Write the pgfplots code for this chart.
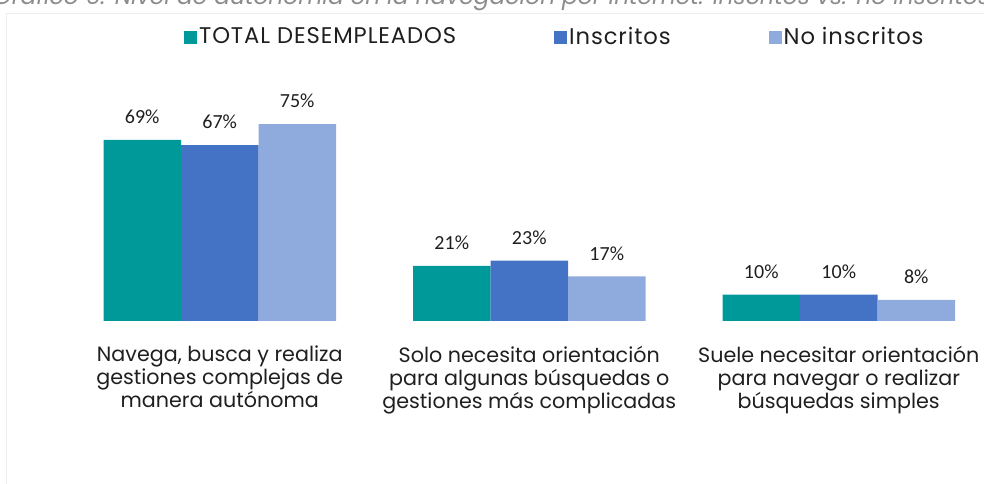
\documentclass[border=0pt]{standalone}
\usepackage{fontspec}
\setmainfont{Poppins}
\newfontfamily\labelfont{Carlito}
\newfontfamily\legendfont{Poppins}[LetterSpace=4]
\usepackage{pgfplots}
\pgfplotsset{compat=1.18}
\definecolor{tealbar}{HTML}{009999}
\definecolor{bluebar}{HTML}{4472C4}
\definecolor{lightbar}{HTML}{8FAADC}
\definecolor{txt}{HTML}{1F1F1F}
\definecolor{titlegray}{HTML}{8C8C8C}
\definecolor{framegray}{HTML}{EDEDED}

\pgfplotsset{
  sqlegend/.style={legend image code/.code={\fill[##1] (0pt,-5.5pt) rectangle (9.75pt,4.25pt);}}
}

\begin{document}
\begin{tikzpicture}
% faint chart frame and clipped title
\draw[framegray, line width=0.6pt] (4.5pt,-5pt) -- (4.5pt,353.25pt) -- (745pt,353.25pt);
\node[anchor=base, inner sep=0pt, text=titlegray, font=\itshape\fontsize{17.5}{20}\selectfont]
  at (369pt,359.25pt) {Gráfico 6. Nivel de autonomía en la navegación por internet. Inscritos vs. no inscritos};

\begin{axis}[
  at={(48.75pt,122.25pt)}, anchor=south west,
  scale only axis,
  width=696.375pt, height=196.875pt,
  xmin=-0.5, xmax=2.5, ymin=0, ymax=100,
  ybar=0pt, bar width=58.125pt,
  axis line style={draw=none},
  major tick length=0pt,
  ytick=\empty,
  xtick={0,1,2},
  xticklabels={{Navega, busca y realiza\\gestiones complejas de\\manera autónoma},
               {Solo necesita orientación\\para algunas búsquedas o\\gestiones más complicadas},
               {Suele necesitar orientación\\para navegar o realizar\\búsquedas simples}},
  xticklabel style={align=center, text=txt, font=\fontsize{15.5}{17.25}\selectfont, yshift=-15pt},
  /pgf/number format/assume math mode=true,
  nodes near coords={\pgfmathprintnumber{\pgfplotspointmeta}\%},
  nodes near coords style={font=\labelfont\fontsize{15}{18}\selectfont, text=txt, anchor=south, yshift=8.5pt},
  legend columns=3,
  legend style={at={(0.128,1.082)}, anchor=west, draw=none, fill=none, inner sep=0pt,
    font=\legendfont\fontsize{17}{19}\selectfont, text=txt,
    nodes={inner xsep=1.5pt},
    /tikz/every even column/.append style={column sep=72pt}},
]
\addplot[fill=tealbar, draw=none, sqlegend] coordinates {(0,69) (1,21) (2,10)};
\addplot[fill=bluebar, draw=none, sqlegend] coordinates {(0,67) (1,23) (2,10)};
\addplot[fill=lightbar, draw=none, sqlegend] coordinates {(0,75) (1,17) (2,8)};
\legend{TOTAL DESEMPLEADOS, Inscritos, No inscritos}
\end{axis}
\pgfresetboundingbox
\useasboundingbox (0,0) rectangle (738pt,363pt);
\end{tikzpicture}
\end{document}
